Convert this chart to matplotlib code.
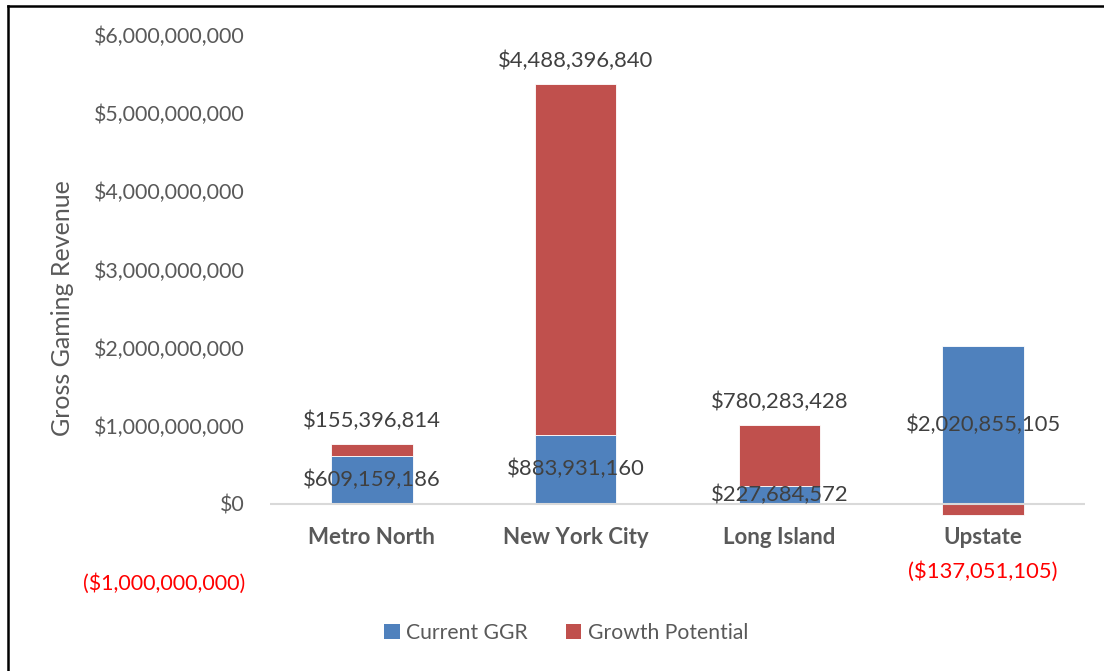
import matplotlib
matplotlib.use("Agg")
import matplotlib.pyplot as plt
import numpy as np
from matplotlib.lines import Line2D
from matplotlib.patches import Patch

categories = ["Metro North", "New York City", "Long Island", "Upstate"]
current_ggr = [609159186, 883931160, 227684572, 2020855105]
growth_potential = [155396814, 4488396840, 780283428, -137051105]
y_ticks = [-1e9, 0, 1e9, 2e9, 3e9, 4e9, 5e9, 6e9]

BLUE = "#4F81BD"
RED = "#C0504D"
GRAY = "#595959"
LABEL = "#404040"
FONT = "Lato"

def money(v):
    s = "${:,.0f}".format(abs(v))
    return "(" + s + ")" if v < 0 else s

fig = plt.figure(figsize=(11.04, 6.71), dpi=100)
ax = fig.add_axes([270/1104, (671-582)/671, 815/1104, 547/671])

x = np.arange(len(categories))
cur = np.array(current_ggr, dtype=float)
gro = np.array(growth_potential, dtype=float)
gro_bottom = np.where(gro >= 0, cur, 0)

ax.bar(x, cur, width=0.4, color=BLUE, edgecolor="white", linewidth=0.6, zorder=2)
ax.bar(x, gro, width=0.4, bottom=gro_bottom, color=RED, edgecolor="white", linewidth=0.6, zorder=2)

ax.set_xlim(-0.5, 3.5)
ax.set_ylim(-1e9, 6e9)
ax.axhline(0, color="#D9D9D9", linewidth=1.5, zorder=3)

for s in ax.spines.values():
    s.set_visible(False)
ax.set_yticks(y_ticks)
ax.set_yticklabels([money(v) for v in y_ticks], fontsize=15.4, family=FONT)
for t, v in zip(ax.get_yticklabels(), y_ticks):
    t.set_color("#FF0000" if v < 0 else GRAY)
ax.tick_params(axis="y", length=0, pad=18)
ax.set_xticks([])

# category labels just below zero line
for xi, c in zip(x, categories):
    ax.annotate(c, (xi, 0), xytext=(0, -24), textcoords="offset points",
                ha="center", va="center", fontsize=16, fontweight="bold",
                color=GRAY, family=FONT)

# current GGR labels centered in segment
for xi, v in zip(x, cur):
    ax.text(xi, v / 2, money(v), ha="center", va="center", fontsize=15.8,
            color=LABEL, family=FONT, zorder=4)

# growth labels
for xi, v, b in zip(x, gro, gro_bottom):
    if v >= 0:
        ax.annotate(money(v), (xi, b + v), xytext=(0, 17), textcoords="offset points",
                    ha="center", va="center", fontsize=15.8, color=LABEL, family=FONT)
    else:
        ax.annotate(money(v), (xi, b + v), xytext=(0, -41), textcoords="offset points",
                    ha="center", va="center", fontsize=15.8, color="#FF0000", family=FONT)

ax.set_ylabel("Gross Gaming Revenue", fontsize=18, color=GRAY, family=FONT, labelpad=6)

handles = [Patch(facecolor=BLUE, label="Current GGR"), Patch(facecolor=RED, label="Growth Potential")]
leg = fig.legend(handles=handles, loc="center", bbox_to_anchor=(566/1104, 1 - 633/671),
                 ncol=2, frameon=False, handlelength=0.75, handleheight=0.75,
                 handletextpad=0.3, columnspacing=1.8, prop={"family": FONT, "size": 15.2})
for t in leg.get_texts():
    t.set_color(GRAY)

# border (left and top)
fig.add_artist(Line2D([8/1104, 8/1104], [0, 1 - 6/671], transform=fig.transFigure, color="black", linewidth=1.8))
fig.add_artist(Line2D([8/1104, 1], [1 - 6/671, 1 - 6/671], transform=fig.transFigure, color="black", linewidth=1.8))

fig.savefig("out.png", dpi=100)
